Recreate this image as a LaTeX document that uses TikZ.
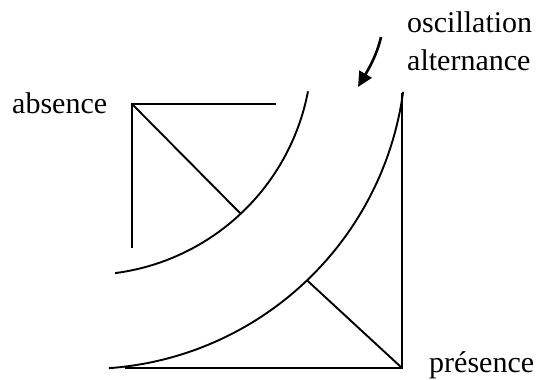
\documentclass[tikz,border=0pt]{standalone}
\usepackage{fontspec}
\setmainfont{Liberation Serif}
\usetikzlibrary{arrows.meta,calc}
\begin{document}
\begin{tikzpicture}[x=1pt,y=-1pt,
  ln/.style={line width=1.9pt},
  lbl/.style={inner sep=0pt, anchor=base west, font=\fontsize{30}{36}\selectfont}]
\useasboundingbox (0,0) rectangle (539,380);
% geometry
\coordinate (C) at (86,49);
\coordinate (A) at (132,104);
\coordinate (Ah) at (276,104);
\coordinate (Av) at (132,248);
\coordinate (B) at (402,368);
\coordinate (Bh) at (125,368);
\coordinate (Bv) at (402,93);
\coordinate (I0) at ($(C)+(10.8:226)$);
\coordinate (Id) at ($(C)+(46.8:226)$);
\coordinate (O0) at ($(C)+(7.7:320)$);
\coordinate (Od) at ($(C)+(46.3:320)$);
% upper-left corner
\draw[ln] (Ah) -- (A) -- (Av);
\draw[ln] (A) -- (Id);
% inner arc
\draw[ln] (I0) arc[start angle=10.8, end angle=82.6, radius=226];
% outer arc
\draw[ln] (O0) arc[start angle=7.7, end angle=85.9, radius=320];
% lower-right corner
\draw[ln] (Bh) -- (B) -- (Bv);
\draw[ln] (B) -- (Od);
% labels
\node[lbl] (absence) at (12,113) {absence};
\node[lbl] (presence) at (429,372) {présence};
\node[lbl] (osc) at (407,32) {oscillation};
\node[lbl] (alt) at (407,70) {alternance};
% arrow
\coordinate (arrS) at (381,37);
\coordinate (arrE) at (358,87);
\draw[line width=2.6pt, -{Triangle[length=15pt,width=14pt]}]
  (arrS) .. controls (377,55) and (368,70) .. (arrE);
\end{tikzpicture}
\end{document}
